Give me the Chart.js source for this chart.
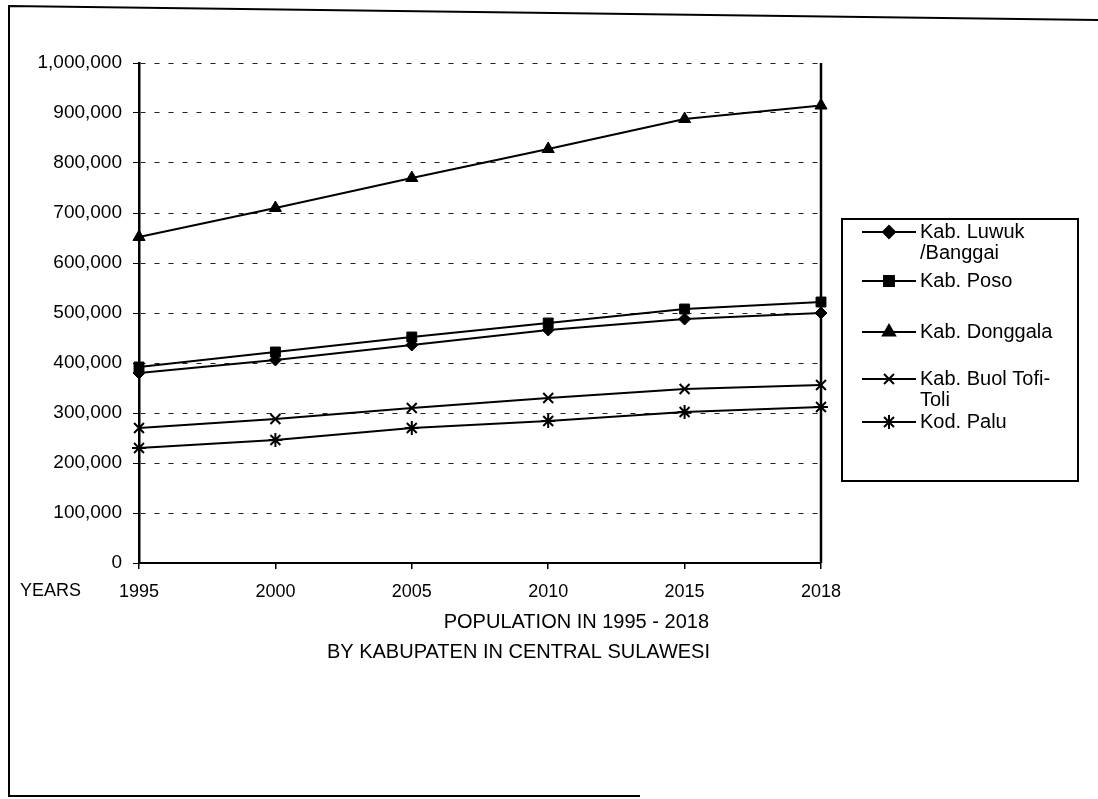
<!DOCTYPE html>
<html>
<head>
<meta charset="utf-8">
<script src="https://cdn.jsdelivr.net/npm/chart.js@4.4.1/dist/chart.umd.min.js"></script>
<style>
  html, body { margin: 0; padding: 0; background: #fff; }
  #c { display: block; }
</style>
</head>
<body>
<canvas id="c" width="1098" height="799"></canvas>
<script>
// ---- data ----
const years = ['1995', '2000', '2005', '2010', '2015', '2018'];
const luwukBanggai = [380000, 406000, 436000, 466000, 488000, 500000];
const poso         = [392000, 422000, 452000, 480000, 508000, 522000];
const donggala     = [652000, 710000, 770000, 828000, 888000, 915000];
const buolTolitoli = [270000, 288000, 310000, 330000, 348000, 356000];
const palu         = [230000, 246000, 270000, 284000, 302000, 312000];
const seriesNames  = [['Kab. Luwuk', '/Banggai'], ['Kab. Poso'], ['Kab. Donggala'], ['Kab. Buol Tofi-', 'Toli'], ['Kod. Palu']];
const yTicks = [0, 100000, 200000, 300000, 400000, 500000, 600000, 700000, 800000, 900000, 1000000];
const axisWord = 'YEARS';
const titleLines = ['POPULATION IN 1995 - 2018', 'BY KABUPATEN IN CENTRAL SULAWESI'];

const FONT = "'Liberation Sans', Arial, sans-serif";
const styles = ['rectRot', 'rect', 'triangle', 'crossRot', 'star'];
const radii = [6, 7, 7, 7, 7];
const allSeries = [luwukBanggai, poso, donggala, buolTolitoli, palu];

const datasets = allSeries.map((d, i) => ({
  label: seriesNames[i].join(' '),
  data: d,
  borderColor: '#000',
  backgroundColor: '#000',
  borderWidth: 2,
  pointStyle: styles[i],
  pointRadius: radii[i],
  pointBorderWidth: (styles[i] === 'crossRot' || styles[i] === 'star') ? 2 : 1,
  pointBorderColor: '#000',
  pointBackgroundColor: '#000',
  tension: 0
}));

const decor = {
  id: 'decor',
  afterDraw(chart) {
    const ctx = chart.ctx;
    const a = chart.chartArea;
    ctx.save();
    // right-hand vertical frame line
    ctx.strokeStyle = '#000';
    ctx.lineWidth = 2.5;
    ctx.beginPath();
    ctx.moveTo(a.right, a.top);
    ctx.lineTo(a.right, a.bottom);
    ctx.stroke();

    // outer border of the figure
    ctx.lineWidth = 2;
    ctx.beginPath();
    ctx.moveTo(1098, 20);
    ctx.lineTo(9, 6);
    ctx.lineTo(9, 796);
    ctx.lineTo(640, 796);
    ctx.stroke();

    // texts under the axis
    ctx.fillStyle = '#000';
    ctx.font = '18px ' + FONT;
    ctx.textAlign = 'left';
    ctx.textBaseline = 'middle';
    ctx.fillText(axisWord, 20, 591);
    ctx.font = '20px ' + FONT;
    ctx.textAlign = 'right';
    ctx.fillText(titleLines[0], 709, 622);
    ctx.fillText(titleLines[1], 710, 652);

    // legend box
    const bx = 842, by = 219, bw = 236, bh = 262;
    ctx.lineWidth = 2;
    ctx.strokeRect(bx, by, bw, bh);
    const rows = [232, 281, 332, 379, 422];
    ctx.font = '20px ' + FONT;
    ctx.textAlign = 'left';
    chart.data.datasets.forEach((ds, i) => {
      const y = rows[i];
      ctx.strokeStyle = '#000';
      ctx.lineWidth = 2;
      ctx.beginPath();
      ctx.moveTo(862, y);
      ctx.lineTo(916, y);
      ctx.stroke();
      Chart.helpers.drawPoint(ctx, {
        pointStyle: ds.pointStyle, radius: ds.pointRadius, rotation: 0,
        borderWidth: ds.pointBorderWidth
      }, 889, y);
      ctx.fillStyle = '#000';
      seriesNames[i].forEach((t, k) => ctx.fillText(t, 920, y + k * 21));
    });
    ctx.restore();
  }
};

new Chart(document.getElementById('c'), {
  type: 'line',
  data: { labels: years, datasets },
  options: {
    responsive: false,
    animation: false,
    layout: { padding: { left: 0, top: 63, right: 277, bottom: 0 } },
    plugins: { legend: { display: false }, title: { display: false }, tooltip: { enabled: false } },
    scales: {
      x: {
        type: 'category',
        offset: false,
        afterFit(s) { s.height = 236; },
        grid: { display: true, drawOnChartArea: false, drawTicks: true, tickLength: 6, color: '#000', lineWidth: 1.5 },
        border: { display: true, color: '#000', width: 2 },
        ticks: { color: '#000', font: { family: FONT, size: 18 }, padding: 12, maxRotation: 0, autoSkip: false }
      },
      y: {
        min: 0,
        max: 1000000,
        afterFit(s) { s.width = 139; },
        afterBuildTicks(s) { s.ticks = yTicks.map(v => ({ value: v })); },
        grid: {
          display: true, drawOnChartArea: true, drawTicks: true, tickLength: 6,
          color: (c) => c.tick && c.tick.value === 0 ? 'rgba(0,0,0,0)' : '#222',
          tickColor: '#000', lineWidth: 1
        },
        border: { display: true, color: '#000', width: 2.5, dash: [5, 9] },
        ticks: {
          color: '#000', font: { family: FONT, size: 19 }, padding: 11,
          callback: (v) => Number(v).toLocaleString('en-US')
        }
      }
    }
  },
  plugins: [decor]
});
</script>
</body>
</html>
